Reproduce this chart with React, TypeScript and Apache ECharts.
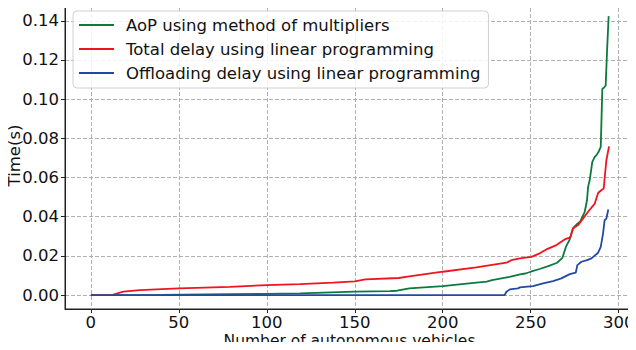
import React, { useEffect, useRef } from "react";
import * as echarts from "echarts";

const xTicks = [0, 50, 100, 150, 200, 250, 300];
const yTicks = [0, 0.02, 0.04, 0.06, 0.08, 0.1, 0.12, 0.14];

const seriesNames = [
  "AoP using method of multipliers",
  "Total delay using linear programming",
  "Offloading delay using linear programming",
];

const greenX = [0, 12, 40, 65, 100, 119, 150, 170, 174, 181, 200, 215, 225, 228, 238, 244, 247, 250, 255, 260, 265, 268, 270, 272, 274, 276, 278, 280.7, 282, 282.6, 283.5, 285, 286.4, 287.3, 288.5, 289.8, 290.7, 291.6, 292.6, 293.4, 294.3];
const greenY = [0, 0, 0.0001, 0.0003, 0.0006, 0.0009, 0.0017, 0.002, 0.0022, 0.0034, 0.0046, 0.006, 0.0068, 0.0076, 0.0093, 0.0105, 0.011, 0.0119, 0.0133, 0.0148, 0.0165, 0.019, 0.0246, 0.028, 0.034, 0.036, 0.0374, 0.0425, 0.0484, 0.0552, 0.0586, 0.068, 0.0705, 0.0713, 0.073, 0.0756, 0.1053, 0.1058, 0.107, 0.125, 0.1424];

const redX = [0, 11.8, 18.4, 27.8, 50, 79, 100, 118.8, 137.7, 150, 156, 175, 181, 200, 219, 236.2, 239, 243.8, 250.4, 255.1, 258.9, 264.6, 269.3, 272.5, 274, 276.9, 279.7, 282.6, 286.4, 288.3, 290.1, 291.5, 292, 293, 294.5];
const redY = [0, 0, 0.0017, 0.0025, 0.0034, 0.0042, 0.0051, 0.0056, 0.0063, 0.007, 0.008, 0.0087, 0.0095, 0.0119, 0.0141, 0.0165, 0.0178, 0.0187, 0.0195, 0.0213, 0.0233, 0.0255, 0.0284, 0.0294, 0.034, 0.0357, 0.039, 0.0425, 0.0467, 0.0521, 0.0535, 0.0544, 0.0595, 0.0688, 0.0759];

const blueX = [0, 235.2, 236.2, 238.1, 242.8, 243.8, 251.3, 257, 262.7, 267.4, 272.2, 275.6, 276.5, 278.8, 282, 284.5, 288.3, 289.8, 291.1, 292, 293, 294.1];
const blueY = [0, 0, 0.0017, 0.0029, 0.0034, 0.0039, 0.0046, 0.006, 0.0071, 0.0085, 0.0107, 0.0114, 0.0153, 0.017, 0.0178, 0.0187, 0.0216, 0.0246, 0.0314, 0.0382, 0.039, 0.0437];

const colors = ["#0b7a3e", "#f0141e", "#2349a6"];

const FONT = "DejaVu Sans";

function pairs(xs: number[], ys: number[]) {
  return xs.map((x, i) => [x, ys[i]]);
}

export default function App() {
  const ref = useRef<HTMLDivElement>(null);
  useEffect(() => {
    if (!ref.current) return;
    const chart = echarts.init(ref.current, undefined, { renderer: "svg" });
    const datasets = [pairs(greenX, greenY), pairs(redX, redY), pairs(blueX, blueY)];
    chart.setOption({
      animation: false,
      textStyle: { fontFamily: FONT },
      grid: {
        left: 65,
        right: 2,
        top: 2,
        bottom: 41,
        outerBoundsMode: "none",
        containLabel: false,
        show: true,
        borderColor: "#222",
        borderWidth: 1,
        backgroundColor: "transparent",
      },
      legend: {
        orient: "vertical",
        left: 73,
        top: 11,
        padding: [4, 8, 5, 6],
        itemGap: 4,
        itemWidth: 35,
        itemHeight: 2,
        icon: "rect",
        borderColor: "#d0d0d0",
        borderWidth: 1,
        borderRadius: 4,
        backgroundColor: "rgba(255,255,255,0.85)",
        data: seriesNames,
        textStyle: {
          fontFamily: FONT,
          fontSize: 16.5,
          color: "#111",
          lineHeight: 20,
          padding: [0, 0, 0, 7],
        },
      },
      xAxis: {
        type: "value",
        min: -14.7,
        max: 308.7,
        name: "Number of autonomous vehicles",
        nameLocation: "middle",
        nameGap: 25.4,
        nameMoveOverlap: false,
        nameTextStyle: { fontFamily: FONT, fontSize: 15.5, lineHeight: 13, color: "#111", verticalAlign: "top" },
        axisLine: { show: true, onZero: false, lineStyle: { color: "#222", width: 1 } },
        axisTick: { show: true, length: 4, customValues: xTicks, lineStyle: { color: "#222" } },
        axisLabel: {
          customValues: xTicks,
          margin: 4.5,
          fontFamily: FONT,
          fontSize: 16.5,
          lineHeight: 17,
          color: "#111",
          formatter: (v: number) => String(v),
        },
        splitLine: { show: true, lineStyle: { color: "#b0b0b0", type: [4, 2], width: 1 } },
      },
      yAxis: {
        type: "value",
        min: -0.007125,
        max: 0.1496,
        name: "Time(s)",
        nameLocation: "middle",
        nameGap: 42,
        nameMoveOverlap: false,
        nameTextStyle: { fontFamily: FONT, fontSize: 16.5, lineHeight: 18, color: "#111" },
        axisLine: { show: true, onZero: false, lineStyle: { color: "#222", width: 1 } },
        axisTick: { show: true, length: 4, customValues: yTicks, lineStyle: { color: "#222" } },
        axisLabel: {
          customValues: yTicks,
          margin: 6,
          fontFamily: FONT,
          fontSize: 16.5,
          lineHeight: 17,
          color: "#111",
          formatter: (v: number) => v.toFixed(2),
        },
        splitLine: { show: true, lineStyle: { color: "#b0b0b0", type: [4, 2], width: 1 } },
      },
      series: seriesNames.map((name, i) => ({
        name,
        type: "line",
        data: datasets[i],
        showSymbol: false,
        symbol: "none",
        color: colors[i],
        lineStyle: { color: colors[i], width: 1.8 },
        z: i === 2 ? 3 : 2,
      })),
    });
    return () => chart.dispose();
  }, []);
  return <div ref={ref} style={{ width: 636, height: 350, margin: -8 }} />;
}
